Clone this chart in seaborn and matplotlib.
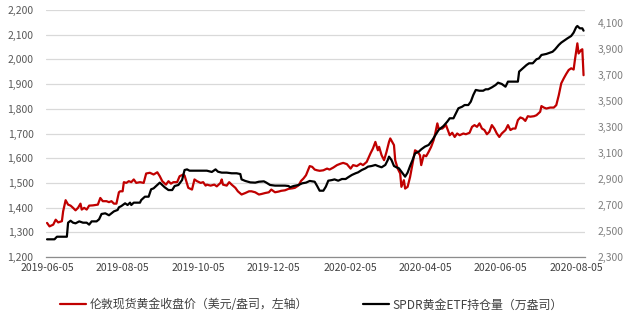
import matplotlib
matplotlib.use("Agg")
import matplotlib.pyplot as plt
import matplotlib.dates as mdates
from matplotlib.ticker import FuncFormatter, MultipleLocator
import seaborn as sns
import pandas as pd

# ---------------- data ----------------
gold_dates = [
    "2019-06-05", "2019-06-07", "2019-06-10", "2019-06-12", "2019-06-14", "2019-06-17", "2019-06-18", "2019-06-20", "2019-06-22", "2019-06-24", "2019-06-26", "2019-06-28", "2019-06-30",
    "2019-07-02", "2019-07-03", "2019-07-05", "2019-07-07", "2019-07-09", "2019-07-12", "2019-07-16", "2019-07-18", "2019-07-20", "2019-07-23", "2019-07-25", "2019-07-27", "2019-07-29", "2019-07-31",
    "2019-08-02", "2019-08-03", "2019-08-05", "2019-08-06", "2019-08-08", "2019-08-10", "2019-08-12", "2019-08-14", "2019-08-16", "2019-08-19", "2019-08-22", "2019-08-24", "2019-08-27", "2019-08-30",
    "2019-09-02", "2019-09-04", "2019-09-06", "2019-09-09", "2019-09-11", "2019-09-13", "2019-09-15", "2019-09-18", "2019-09-20", "2019-09-23", "2019-09-24", "2019-09-27", "2019-09-30",
    "2019-10-02", "2019-10-04", "2019-10-07", "2019-10-09", "2019-10-11", "2019-10-12", "2019-10-15", "2019-10-18", "2019-10-20", "2019-10-23", "2019-10-24", "2019-10-25", "2019-10-28", "2019-10-30",
    "2019-11-01", "2019-11-04", "2019-11-06", "2019-11-09", "2019-11-12", "2019-11-15", "2019-11-17", "2019-11-20", "2019-11-23", "2019-11-25", "2019-11-28",
    "2019-12-01", "2019-12-03", "2019-12-06", "2019-12-09", "2019-12-11", "2019-12-14", "2019-12-17", "2019-12-20", "2019-12-22", "2019-12-25", "2019-12-27", "2019-12-29", "2019-12-31",
    "2020-01-03", "2020-01-05", "2020-01-07", "2020-01-09", "2020-01-11", "2020-01-14", "2020-01-17", "2020-01-19", "2020-01-22", "2020-01-25", "2020-01-28", "2020-01-30",
    "2020-02-02", "2020-02-05", "2020-02-07", "2020-02-10", "2020-02-13", "2020-02-15", "2020-02-18", "2020-02-21", "2020-02-23", "2020-02-25", "2020-02-27", "2020-02-28",
    "2020-03-01", "2020-03-03", "2020-03-05", "2020-03-07", "2020-03-08", "2020-03-11", "2020-03-12", "2020-03-14", "2020-03-16", "2020-03-17", "2020-03-19", "2020-03-20", "2020-03-22", "2020-03-24", "2020-03-26", "2020-03-28", "2020-03-30",
    "2020-04-01", "2020-04-02", "2020-04-04", "2020-04-06", "2020-04-08", "2020-04-10", "2020-04-12", "2020-04-13", "2020-04-15", "2020-04-16", "2020-04-19", "2020-04-22", "2020-04-24", "2020-04-25", "2020-04-27", "2020-04-29",
    "2020-05-01", "2020-05-03", "2020-05-06", "2020-05-08", "2020-05-11", "2020-05-13", "2020-05-15", "2020-05-17", "2020-05-19", "2020-05-21", "2020-05-23", "2020-05-25", "2020-05-27", "2020-05-29", "2020-05-31",
    "2020-06-02", "2020-06-04", "2020-06-06", "2020-06-09", "2020-06-11", "2020-06-13", "2020-06-15", "2020-06-17", "2020-06-19", "2020-06-21", "2020-06-23", "2020-06-25", "2020-06-27", "2020-06-29",
    "2020-07-02", "2020-07-04", "2020-07-07", "2020-07-08", "2020-07-10", "2020-07-12", "2020-07-15", "2020-07-18", "2020-07-20", "2020-07-22", "2020-07-24", "2020-07-26", "2020-07-28", "2020-07-30",
    "2020-08-01", "2020-08-03", "2020-08-04", "2020-08-06", "2020-08-07", "2020-08-08", "2020-08-09", "2020-08-10", "2020-08-11",
]
gold_values = [
    1338, 1324, 1331, 1351, 1340, 1345, 1385, 1430, 1412, 1408, 1399, 1389, 1399,
    1416, 1392, 1399, 1392, 1408, 1409, 1412, 1439, 1426, 1426, 1422, 1426, 1416, 1416,
    1462, 1466, 1466, 1503, 1500, 1507, 1503, 1514, 1500, 1503, 1500, 1538, 1541, 1534,
    1543, 1527, 1507, 1493, 1507, 1497, 1503, 1503, 1527, 1534, 1530, 1480, 1473,
    1514, 1507, 1500, 1503, 1489, 1493, 1489, 1493, 1486, 1500, 1514, 1493, 1489, 1503,
    1493, 1480, 1466, 1453, 1459, 1466, 1466, 1462, 1453, 1455, 1459,
    1462, 1473, 1462, 1465, 1468, 1470, 1476, 1478, 1480, 1490, 1508, 1518, 1531,
    1568, 1565, 1554, 1551, 1549, 1551, 1558, 1554, 1562, 1572, 1578, 1581,
    1576, 1558, 1572, 1568, 1578, 1572, 1585, 1619, 1639, 1666, 1632, 1646,
    1612, 1592, 1626, 1666, 1680, 1653, 1592, 1558, 1538, 1484, 1511, 1477, 1484, 1524, 1578, 1632, 1626,
    1612, 1572, 1612, 1608, 1626, 1646, 1673, 1693, 1741, 1720, 1720, 1734, 1707, 1693, 1703, 1686,
    1700, 1693, 1700, 1697, 1703, 1727, 1734, 1727, 1741, 1720, 1714, 1697, 1707, 1734, 1720,
    1700, 1686, 1700, 1714, 1734, 1714, 1720, 1720, 1754, 1765, 1761, 1751, 1770, 1768,
    1770, 1774, 1788, 1811, 1805, 1801, 1805, 1805, 1815, 1855, 1903, 1923, 1941, 1957,
    1964, 1959, 1997, 2065, 2024, 2031, 2038, 2041, 1936,
]

etf_dates = [
    "2019-06-05", "2019-06-11", "2019-06-13", "2019-06-21", "2019-06-22", "2019-06-24", "2019-06-26", "2019-06-28",
    "2019-07-01", "2019-07-04", "2019-07-07", "2019-07-09", "2019-07-11", "2019-07-15", "2019-07-17", "2019-07-19", "2019-07-22", "2019-07-25", "2019-07-27", "2019-07-29",
    "2019-08-01", "2019-08-02", "2019-08-04", "2019-08-07", "2019-08-09", "2019-08-11", "2019-08-12", "2019-08-14", "2019-08-19", "2019-08-20", "2019-08-23", "2019-08-26", "2019-08-28", "2019-08-30",
    "2019-09-02", "2019-09-04", "2019-09-06", "2019-09-08", "2019-09-11", "2019-09-14", "2019-09-16", "2019-09-19", "2019-09-22", "2019-09-24", "2019-09-26", "2019-09-28",
    "2019-10-02", "2019-10-07", "2019-10-12", "2019-10-16", "2019-10-19", "2019-10-21", "2019-10-24", "2019-10-28",
    "2019-11-01", "2019-11-05", "2019-11-08", "2019-11-09", "2019-11-12", "2019-11-16", "2019-11-20", "2019-11-23", "2019-11-27", "2019-11-29",
    "2019-12-02", "2019-12-06", "2019-12-10", "2019-12-14", "2019-12-17", "2019-12-18", "2019-12-21", "2019-12-25", "2019-12-28", "2019-12-31",
    "2020-01-03", "2020-01-07", "2020-01-09", "2020-01-11", "2020-01-14", "2020-01-16", "2020-01-18", "2020-01-21", "2020-01-23", "2020-01-26", "2020-01-29",
    "2020-02-01", "2020-02-03", "2020-02-06", "2020-02-09", "2020-02-11", "2020-02-14", "2020-02-17", "2020-02-19", "2020-02-22", "2020-02-25", "2020-02-27",
    "2020-03-01", "2020-03-04", "2020-03-06", "2020-03-07", "2020-03-09", "2020-03-11", "2020-03-13", "2020-03-15", "2020-03-17", "2020-03-20", "2020-03-22", "2020-03-24", "2020-03-26", "2020-03-28", "2020-03-31",
    "2020-04-02", "2020-04-05", "2020-04-08", "2020-04-11", "2020-04-13", "2020-04-16", "2020-04-20", "2020-04-23", "2020-04-25", "2020-04-28", "2020-04-30",
    "2020-05-02", "2020-05-05", "2020-05-07", "2020-05-10", "2020-05-12", "2020-05-14", "2020-05-16", "2020-05-19", "2020-05-22", "2020-05-24", "2020-05-26", "2020-05-29",
    "2020-06-01", "2020-06-03", "2020-06-06", "2020-06-09", "2020-06-11", "2020-06-14", "2020-06-17", "2020-06-19", "2020-06-20", "2020-06-23", "2020-06-26", "2020-06-28",
    "2020-07-01", "2020-07-04", "2020-07-06", "2020-07-08", "2020-07-12", "2020-07-15", "2020-07-17", "2020-07-19", "2020-07-22", "2020-07-24", "2020-07-27", "2020-07-29",
    "2020-08-01", "2020-08-03", "2020-08-05", "2020-08-06", "2020-08-08", "2020-08-10", "2020-08-11",
]
etf_values = [
    2436, 2436, 2456, 2456, 2564, 2579, 2564, 2559,
    2574, 2564, 2564, 2549, 2574, 2574, 2590, 2631, 2636, 2621, 2636, 2651,
    2662, 2682, 2692, 2713, 2700, 2718, 2700, 2718, 2718, 2738, 2764, 2764, 2821, 2828,
    2854, 2872, 2854, 2836, 2815, 2815, 2846, 2854, 2892, 2969, 2974, 2964,
    2964, 2964, 2964, 2954, 2974, 2956, 2949, 2949,
    2944, 2944, 2938, 2897, 2885, 2874, 2872, 2879, 2882, 2872,
    2854, 2849, 2849, 2849, 2846, 2836, 2846, 2854, 2867, 2872,
    2885, 2879, 2846, 2810, 2810, 2841, 2887, 2892, 2897, 2887, 2900,
    2900, 2913, 2931, 2944, 2951, 2969, 2982, 2995, 3000, 3008, 3000,
    2990, 3008, 3046, 3072, 3046, 3000, 2990, 2982, 2956, 2918, 2949, 3000, 3046, 3097, 3110,
    3128, 3149, 3162, 3200, 3231, 3277, 3308, 3341, 3367, 3367, 3405,
    3444, 3456, 3469, 3469, 3495, 3546, 3585, 3579, 3579, 3590, 3590, 3605,
    3623, 3641, 3631, 3610, 3649, 3649, 3649, 3649, 3726, 3751, 3777, 3790,
    3790, 3821, 3828, 3854, 3862, 3872, 3879, 3897, 3931, 3949, 3969, 3982,
    4000, 4026, 4067, 4077, 4059, 4059, 4041,
]

gold_label = "伦敦现货黄金收盘价（美元/盎司，左轴）"
etf_label = "SPDR黄金ETF持仓量（万盎司）"
xtick_dates = ["2019-06-05", "2019-08-05", "2019-10-05", "2019-12-05",
               "2020-02-05", "2020-04-05", "2020-06-05", "2020-08-05"]

assert len(gold_dates) == len(gold_values)
assert len(etf_dates) == len(etf_values)

gold_df = pd.DataFrame({"date": pd.to_datetime(gold_dates), "value": gold_values})
etf_df = pd.DataFrame({"date": pd.to_datetime(etf_dates), "value": etf_values})

# ---------------- style ----------------
sns.set_theme(style="white")
plt.rcParams["font.family"] = ["Noto Sans CJK SC", "DejaVu Sans"]

fig = plt.figure(figsize=(6.29, 3.16), dpi=100)
ax = fig.add_axes([46 / 629, 1 - 257 / 316, (585 - 46) / 629, (257 - 10) / 316])
ax2 = ax.twinx()

sns.lineplot(data=gold_df, x="date", y="value", ax=ax, color="#C00000",
             linewidth=1.6, label=gold_label, legend=False)
sns.lineplot(data=etf_df, x="date", y="value", ax=ax2, color="#000000",
             linewidth=1.6, label=etf_label, legend=False)

ax.set_ylim(1200, 2200)
ax.yaxis.set_major_locator(MultipleLocator(100))
ax2.set_ylim(2300, 4200)
ax2.set_yticks(list(range(2300, 4101, 200)))

fmt = FuncFormatter(lambda v, p: f"{int(v):,}")
ax.yaxis.set_major_formatter(fmt)
ax2.yaxis.set_major_formatter(fmt)

ax.set_xlim(pd.Timestamp("2019-06-04 04:00"), pd.Timestamp("2020-08-12 04:00"))
ax.set_xticks(pd.to_datetime(xtick_dates))
ax.xaxis.set_major_formatter(mdates.DateFormatter("%Y-%m-%d"))

ax.grid(axis="y", color="#D9D9D9", linewidth=0.9)
ax.set_axisbelow(True)
ax2.grid(False)

for a in (ax, ax2):
    a.set_xlabel("")
    a.set_ylabel("")
    for s in ("top", "left", "right", "bottom"):
        a.spines[s].set_visible(False)
ax.spines["bottom"].set_visible(True)
ax.spines["bottom"].set_color("#8C8C8C")
ax.spines["bottom"].set_linewidth(0.9)

ax.tick_params(axis="y", length=0, pad=9, labelsize=7.5, labelcolor="#595959")
ax.tick_params(axis="x", length=0, pad=4, labelsize=7.5, labelcolor="#404040")
ax2.tick_params(axis="y", length=0, pad=9, labelsize=7.5, labelcolor="#7F7F7F")

h1 = ax.get_lines()[0]
h2 = ax2.get_lines()[0]
fig.legend([h1, h2], [gold_label, etf_label], loc="center",
           bbox_to_anchor=(0.495, 1 - 305 / 316), ncol=2, frameon=False,
           fontsize=8.6, handlelength=2.2, handletextpad=0.3, columnspacing=4.6,
           labelcolor="#404040")

fig.savefig("out.png", dpi=100)
